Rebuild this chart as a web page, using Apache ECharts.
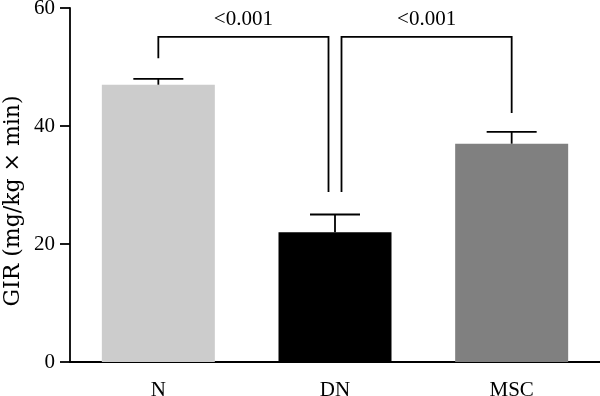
<!DOCTYPE html>
<html>
<head>
<meta charset="utf-8">
<script src="https://cdn.jsdelivr.net/npm/echarts@6/dist/echarts.min.js"></script>
<style>
  html, body { margin: 0; padding: 0; background: #fff; }
  #chart { width: 600px; height: 396px; }
</style>
</head>
<body>
<div id="chart"></div>
<script>
const categories = ['N', 'DN', 'MSC'];
const means = [47, 22, 37];
const upperErr = [48, 25, 39];
const barColors = ['#cccccc', '#000000', '#808080'];
const yTicks = [0, 20, 40, 60];
// bracket: [leftIndex, rightIndex, leftFoot, rightFoot, top, labelValue, label]
const brackets = [
  [0, 1, 51.5, 28.8, 55.1, 58, '<0.001'],
  [1, 2, 28.8, 42.2, 55.1, 58, '<0.001']
];

const chart = echarts.init(document.getElementById('chart'));
const font = 'Liberation Serif';

function errorItem(params, api) {
  const i = api.value(0);
  const top = api.coord([i, api.value(2)]);
  const base = api.coord([i, api.value(1)]);
  return {
    type: 'group',
    children: [
      { type: 'line', shape: { x1: top[0], y1: top[1], x2: base[0], y2: base[1] },
        style: { stroke: '#000', lineWidth: 1.8 } },
      { type: 'line', shape: { x1: top[0] - 25, y1: top[1], x2: top[0] + 25, y2: top[1] },
        style: { stroke: '#000', lineWidth: 1.8 } }
    ]
  };
}

function bracketItem(params, api) {
  const li = api.value(0), ri = api.value(1);
  // legs touching the DN column are nudged away from its centre
  const lOff = li === 1 ? 6.5 : 0;
  const rOff = ri === 1 ? -6.5 : 0;
  const lf = api.coord([li, api.value(2)]);
  const rf = api.coord([ri, api.value(3)]);
  const tp = api.coord([li, api.value(4)]);
  const lab = api.coord([li, api.value(5)]);
  const x1 = lf[0] + lOff, x2 = rf[0] + rOff;
  return {
    type: 'group',
    children: [
      { type: 'polyline', shape: { points: [[x1, lf[1]], [x1, tp[1]], [x2, tp[1]], [x2, rf[1]]] },
        style: { stroke: '#000', lineWidth: 1.8, fill: null } },
      { type: 'text', x: (x1 + x2) / 2, y: lab[1],
        style: { text: brackets[params.dataIndex][6], font: '21px "' + font + '"',
          fill: '#000', align: 'center', verticalAlign: 'middle' } }
    ]
  };
}

chart.setOption({
  animation: false,
  grid: { left: 70, right: 0, top: 8, bottom: 34, outerBoundsMode: 'none' },
  xAxis: {
    type: 'category',
    data: categories,
    axisLine: { lineStyle: { color: '#000', width: 1.8 } },
    axisTick: { alignWithLabel: true, length: 10, lineStyle: { color: '#000', width: 1.8 } },
    axisLabel: { color: '#000', fontFamily: font, fontSize: 21, margin: 18 }
  },
  yAxis: {
    type: 'value',
    min: 0, max: 60, interval: 20,
    axisLine: { show: true, lineStyle: { color: '#000', width: 1.8 } },
    axisTick: { show: true, length: 10, lineStyle: { color: '#000', width: 1.8 } },
    axisLabel: { color: '#000', fontFamily: font, fontSize: 21, margin: 15,
      formatter: v => yTicks.includes(v) ? String(v) : '' },
    splitLine: { show: false }
  },
  graphic: [{
    type: 'text', x: 13, y: 201, rotation: Math.PI / 2,
    style: { text: 'GIR (mg/kg × min)', font: '22px "DejaVu Serif"', fill: '#000',
      align: 'center', verticalAlign: 'middle' }
  }],
  series: [
    {
      type: 'bar',
      barWidth: 113,
      data: means.map((v, i) => ({ value: v, itemStyle: { color: barColors[i] } })),
      z: 2
    },
    {
      type: 'custom',
      renderItem: errorItem,
      data: means.map((v, i) => [i, v, upperErr[i]]),
      z: 3
    },
    {
      type: 'custom',
      renderItem: bracketItem,
      data: brackets.map(b => b.slice(0, 6)),
      z: 3
    }
  ]
});
</script>
</body>
</html>
